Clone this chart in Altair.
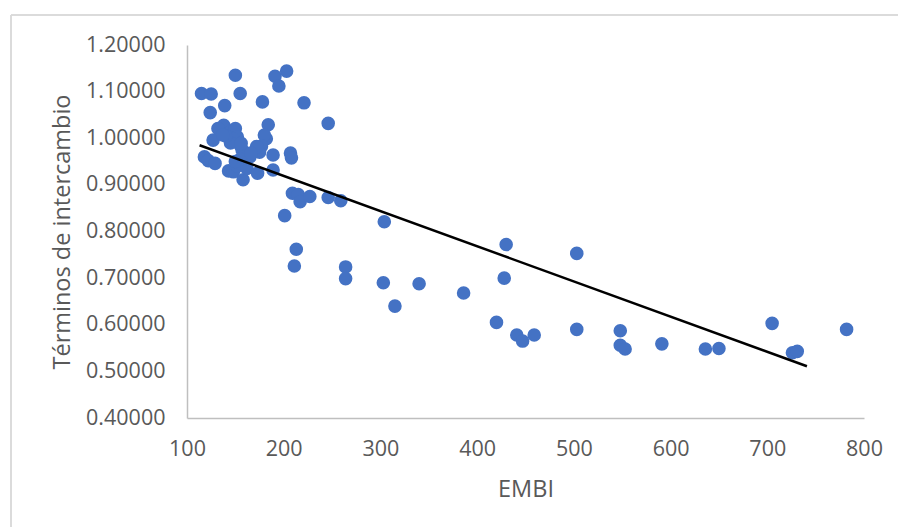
import altair as alt
import pandas as pd

embi = [115, 125, 150, 155, 124, 139, 178, 191, 203, 195, 221, 246, 184,
        127, 138, 132, 145, 150, 152, 148, 155, 157, 160, 165, 182, 180, 177, 175, 172, 189, 207, 208,
        118, 122, 129, 143, 148, 152, 158, 162, 173, 189, 155, 150, 145, 140, 137, 156, 166,
        209, 215, 217, 227, 246, 259,
        201, 213, 211, 264, 264, 303, 304, 315, 340, 386,
        420, 430, 428, 441, 447, 459, 503, 503, 548, 548, 553, 591, 636, 650, 705, 726, 731, 782]
tdi = [1.096, 1.095, 1.135, 1.096, 1.055, 1.070, 1.078, 1.133, 1.144, 1.112, 1.076, 1.032, 1.029,
       0.996, 1.028, 1.021, 1.015, 1.021, 1.003, 0.998, 0.985, 0.975, 0.968, 0.960, 0.999, 1.007, 0.983, 0.970, 0.982, 0.964, 0.968, 0.958,
       0.960, 0.952, 0.946, 0.930, 0.928, 0.940, 0.911, 0.935, 0.925, 0.932, 0.955, 0.950, 0.990, 1.005, 1.007, 0.989, 0.968,
       0.882, 0.879, 0.864, 0.875, 0.873, 0.866,
       0.834, 0.762, 0.726, 0.724, 0.699, 0.690, 0.821, 0.640, 0.688, 0.668,
       0.605, 0.772, 0.700, 0.578, 0.565, 0.578, 0.753, 0.590, 0.587, 0.556, 0.548, 0.559, 0.548, 0.549, 0.603, 0.540, 0.543, 0.590]

trend_x = [113, 741]
trend_y = [0.985, 0.511]

x_ticks = [100, 200, 300, 400, 500, 600, 700, 800]
y_ticks = [0.4, 0.5, 0.6, 0.7, 0.8, 0.9, 1.0, 1.1, 1.2]

pts = pd.DataFrame({"EMBI": embi, "TDI": tdi})
trend = pd.DataFrame({"EMBI": trend_x, "TDI": trend_y})

FONT = "Open Sans"
GRAY = "#595959"

xs = alt.X("EMBI:Q", scale=alt.Scale(domain=[100, 800], nice=False, zero=False),
           axis=alt.Axis(title="EMBI", values=x_ticks, format="d", grid=False, ticks=False,
                         labelFlush=False, labelOverlap=False,
                         domainColor="#bfbfbf", domainWidth=1.5,
                         labelFont=FONT, labelFontSize=21.5, labelColor=GRAY, labelPadding=20,
                         titleFont=FONT, titleFontSize=23.5, titleColor=GRAY, titleFontWeight="normal",
                         titleBaseline="middle", titleY=71))
ys = alt.Y("TDI:Q", scale=alt.Scale(domain=[0.4, 1.2], nice=False, zero=False),
           axis=alt.Axis(title="Términos de intercambio", values=y_ticks, format=".5f", grid=False, ticks=False,
                         labelFlush=False, labelOverlap=False,
                         domainColor="#bfbfbf", domainWidth=1.5,
                         labelFont=FONT, labelFontSize=21.5, labelColor=GRAY, labelPadding=22,
                         titleFont=FONT, titleFontSize=23.5, titleColor=GRAY, titleFontWeight="normal",
                         titleBaseline="middle", titleX=-125, titleY=186.5))

points = alt.Chart(pts).mark_circle(size=185, color="#4472C4", opacity=1).encode(x=xs, y=ys)
line = alt.Chart(trend).mark_line(color="black", strokeWidth=2.5).encode(x="EMBI:Q", y="TDI:Q")

border_h = alt.Chart(trend).mark_rule(color="#d9d9d9", strokeWidth=1.5).encode(
    x=alt.value(-176), x2=alt.value(720), y=alt.value(-30))
border_v = alt.Chart(trend).mark_rule(color="#d9d9d9", strokeWidth=1.5).encode(
    x=alt.value(-176), y=alt.value(-30), y2=alt.value(490))

chart = alt.layer(border_h, border_v, points, line).properties(
    width=677, height=373,
    autosize=alt.AutoSizeParams(type="none"),
    padding={"left": 187, "top": 45, "right": 34, "bottom": 109},
    background="white",
).configure_view(stroke=None)

chart.save("out.html", embed_options={"renderer": "svg", "actions": False})
